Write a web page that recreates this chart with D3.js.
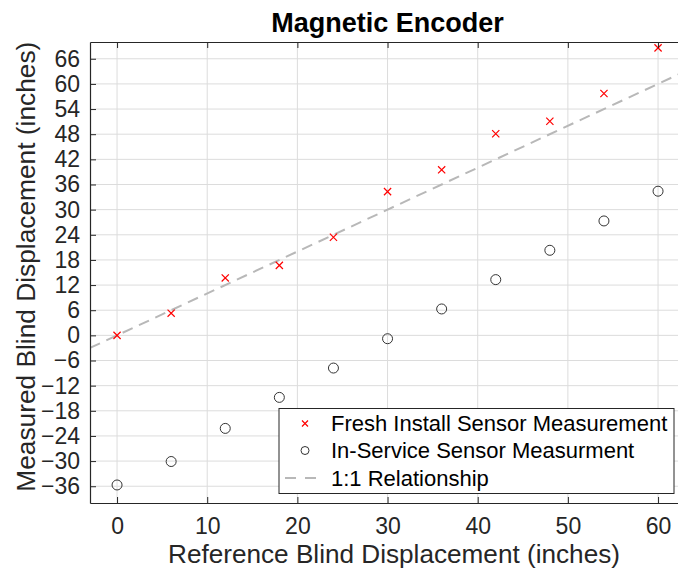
<!DOCTYPE html>
<html><head><meta charset="utf-8">
<script src="https://cdn.jsdelivr.net/npm/d3@7"></script>
<style>body{margin:0;background:#fff}svg{display:block}text{font-family:"Liberation Sans",Arial,Helvetica,sans-serif}</style>
</head><body>
<script>
const refX = [0, 6, 12, 18, 24, 30, 36, 42, 48, 54, 60];
const freshY = [0, 5.3, 13.7, 16.7, 23.4, 34.3, 39.5, 48.1, 51.1, 57.7, 68.6];
const serviceY = [-35.7, -30.1, -22.2, -14.8, -7.8, -0.8, 6.3, 13.3, 20.3, 27.3, 34.4];
const lineX = [-3, 63];
const xTicks = [0, 10, 20, 30, 40, 50, 60];
const yTicks = [-36, -30, -24, -18, -12, -6, 0, 6, 12, 18, 24, 30, 36, 42, 48, 54, 60, 66];
const legendLabels = ["Fresh Install Sensor Measurement", "In-Service Sensor Measurment", "1:1 Relationship"];

const W = 678, H = 575;
const L = 90, T = 42, B = 503, R = 685.1;
const svg = d3.select("body").append("svg").attr("width", W).attr("height", H);
const x = d3.scaleLinear().domain([-3, 63]).range([L, R]);
const y = d3.scaleLinear().domain([-40, 70]).range([B, T]);
const axisCol = "#262626";

// grid
const g = svg.append("g");
g.selectAll(".gx").data(xTicks).join("line")
  .attr("x1", d => x(d)).attr("x2", d => x(d)).attr("y1", T).attr("y2", B)
  .attr("stroke", "#dcdcdc").attr("stroke-width", 1);
g.selectAll(".gy").data(yTicks).join("line")
  .attr("x1", L).attr("x2", R).attr("y1", d => y(d)).attr("y2", d => y(d))
  .attr("stroke", "#dcdcdc").attr("stroke-width", 1);

svg.append("defs").append("clipPath").attr("id", "c")
  .append("rect").attr("x", L).attr("y", T).attr("width", R - L).attr("height", B - T);

// 1:1 line
svg.append("line").attr("clip-path", "url(#c)")
  .attr("x1", x(lineX[0])).attr("y1", y(lineX[0])).attr("x2", x(lineX[1])).attr("y2", y(lineX[1]))
  .attr("stroke", "#b8b8b8").attr("stroke-width", 2).attr("stroke-dasharray", "11,7");

// fresh x markers
const xs = 3.6;
const fm = svg.append("g");
refX.forEach((v, i) => {
  const cx = x(v), cy = y(freshY[i]);
  fm.append("path").attr("d", `M${cx - xs},${cy - xs}L${cx + xs},${cy + xs}M${cx - xs},${cy + xs}L${cx + xs},${cy - xs}`)
    .attr("stroke", "#ff0000").attr("stroke-width", 1.2).attr("fill", "none");
});
// service circles
svg.append("g").selectAll("circle").data(refX).join("circle")
  .attr("cx", d => x(d)).attr("cy", (d, i) => y(serviceY[i])).attr("r", 5)
  .attr("fill", "none").attr("stroke", "#333").attr("stroke-width", 1);

// axes
const xAxis = d3.axisBottom(x).tickValues(xTicks).tickSizeInner(-6).tickSizeOuter(0).tickPadding(14.5);
const gxA = svg.append("g").attr("transform", `translate(0,${B})`).call(xAxis);
const xTop = d3.axisTop(x).tickValues(xTicks).tickSizeInner(-6).tickSizeOuter(0).tickFormat("");
const gxT = svg.append("g").attr("transform", `translate(0,${T})`).call(xTop);
const yAxis = d3.axisLeft(y).tickValues(yTicks).tickSizeInner(-6).tickSizeOuter(0).tickPadding(10);
const gyA = svg.append("g").attr("transform", `translate(${L},0)`).call(yAxis);
[gxA, gxT, gyA].forEach(a => {
  a.select(".domain").attr("stroke", axisCol).attr("stroke-width", 1.2);
  a.selectAll(".tick line").attr("stroke", axisCol);
  a.selectAll("text").attr("fill", axisCol).style("font-size", "23px").style("font-family", '"Liberation Sans",Arial,sans-serif');
});
gxA.selectAll("text").attr("dy", "0.71em");

// labels
svg.append("text").attr("x", (L + R) / 2).attr("y", 32).attr("text-anchor", "middle")
  .style("font-size", "27px").style("font-weight", "bold").attr("fill", "#000").text("Magnetic Encoder");
svg.append("text").attr("x", 394).attr("y", 563).attr("text-anchor", "middle")
  .attr("textLength", 452).attr("lengthAdjust", "spacingAndGlyphs")
  .style("font-size", "25px").attr("fill", axisCol).text("Reference Blind Displacement (inches)");
svg.append("text").attr("transform", `translate(35,266.7) rotate(-90)`).attr("text-anchor", "middle")
  .attr("textLength", 450).attr("lengthAdjust", "spacingAndGlyphs")
  .style("font-size", "26px").attr("fill", axisCol).text("Measured Blind Displacement (inches)");

// legend
const lg = svg.append("g");
lg.append("rect").attr("x", 279).attr("y", 408.5).attr("width", 395).attr("height", 85)
  .attr("fill", "#fff").attr("stroke", "#262626").attr("stroke-width", 1);
const ly = [423.5, 450.5, 478];
const lx = 305;
lg.append("path").attr("d", `M${lx - 3},${ly[0] - 3}L${lx + 3},${ly[0] + 3}M${lx - 3},${ly[0] + 3}L${lx + 3},${ly[0] - 3}`)
  .attr("stroke", "#ff0000").attr("stroke-width", 1.2);
lg.append("circle").attr("cx", lx).attr("cy", ly[1]).attr("r", 4).attr("fill", "none").attr("stroke", "#333");
lg.append("line").attr("x1", 285).attr("x2", 320).attr("y1", ly[2]).attr("y2", ly[2])
  .attr("stroke", "#b8b8b8").attr("stroke-width", 2).attr("stroke-dasharray", "11,9");
lg.selectAll("text.l").data(legendLabels).join("text")
  .attr("x", 331).attr("y", (d, i) => ly[i]).attr("dy", "0.35em")
  .style("font-size", "22px").attr("fill", "#000").text(d => d);
</script>
</body></html>
